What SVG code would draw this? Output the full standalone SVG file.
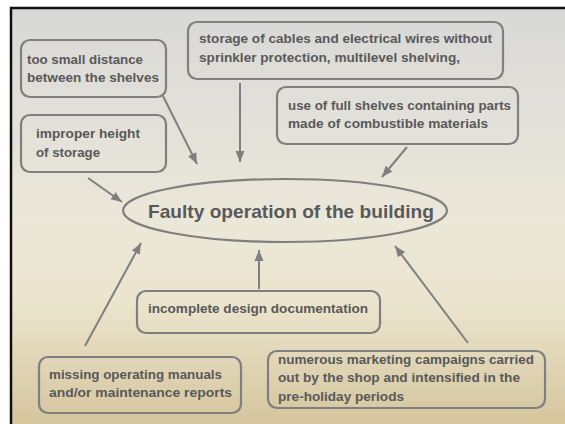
<svg xmlns="http://www.w3.org/2000/svg" width="565" height="424" viewBox="0 0 565 424">
<defs>
<linearGradient id="bg" x1="0" y1="0" x2="0" y2="1">
<stop offset="0" stop-color="#d8d8d8"/>
<stop offset="0.5" stop-color="#ebe8d9"/>
<stop offset="0.7" stop-color="#ebe4cd"/>
<stop offset="1" stop-color="#d3c39a"/>
</linearGradient>
<marker id="ah" markerUnits="userSpaceOnUse" markerWidth="12" markerHeight="12" viewBox="0 0 12 12" refX="11" refY="6" orient="auto">
<path d="M0,1.5 L11,6 L0,10.5 Z" fill="#7f7f7f"/>
</marker>
<style>
.box{fill:none;stroke:#7f7f7f;stroke-width:2.2}
.t{font-family:"Liberation Sans",Arial,sans-serif;font-weight:bold;font-size:13.3px;fill:#595959}
.title{font-family:"Liberation Sans",Arial,sans-serif;font-weight:bold;font-size:19px;fill:#595959}
.c{stroke:#7f7f7f;stroke-width:2;fill:none;marker-end:url(#ah)}
</style>
</defs>
<rect x="0" y="0" width="565" height="424" fill="#ffffff"/>
<rect x="11" y="8" width="560" height="424" fill="url(#bg)" stroke="#111111" stroke-width="2.5"/>

<g id="connectors">
<line class="c" x1="163" y1="96" x2="197" y2="164"/>
<line class="c" x1="240" y1="83" x2="240" y2="162"/>
<line class="c" x1="407" y1="147" x2="382" y2="177"/>
<line class="c" x1="88" y1="178" x2="122" y2="202"/>
<line class="c" x1="85" y1="346" x2="141" y2="243"/>
<line class="c" x1="259" y1="289" x2="259" y2="250"/>
<line class="c" x1="468" y1="343" x2="395" y2="246"/>
</g>

<g id="center">
<ellipse cx="285" cy="210.5" rx="162" ry="31.5" fill="none" stroke="#7f7f7f" stroke-width="2.2"/>
<text class="title" x="148" y="218" textLength="286" lengthAdjust="spacingAndGlyphs">Faulty operation of the building</text>
</g>

<g id="n-distance">
<rect class="box" x="21" y="40" width="145" height="57" rx="9"/>
<text class="t" x="27" y="64" textLength="116" lengthAdjust="spacingAndGlyphs">too small distance</text>
<text class="t" x="27" y="82" textLength="132" lengthAdjust="spacingAndGlyphs">between the shelves</text>
</g>

<g id="n-height">
<rect class="box" x="21" y="115" width="145" height="57" rx="9"/>
<text class="t" x="36" y="138" textLength="104" lengthAdjust="spacingAndGlyphs">improper height</text>
<text class="t" x="36" y="157" textLength="64" lengthAdjust="spacingAndGlyphs">of storage</text>
</g>

<g id="n-cables">
<rect class="box" x="188" y="22" width="315" height="57" rx="9"/>
<text class="t" x="199" y="43" textLength="293" lengthAdjust="spacingAndGlyphs">storage of cables and electrical wires without</text>
<text class="t" x="199" y="62" textLength="261" lengthAdjust="spacingAndGlyphs">sprinkler protection, multilevel shelving,</text>
</g>

<g id="n-shelves">
<rect class="box" x="277" y="87" width="241" height="57" rx="9"/>
<text class="t" x="288" y="110" textLength="223" lengthAdjust="spacingAndGlyphs">use of full shelves containing parts</text>
<text class="t" x="288" y="128" textLength="200" lengthAdjust="spacingAndGlyphs">made of combustible materials</text>
</g>

<g id="n-design">
<rect class="box" x="137" y="291" width="243" height="42" rx="9"/>
<text class="t" x="148" y="313" textLength="220" lengthAdjust="spacingAndGlyphs">incomplete design documentation</text>
</g>

<g id="n-manuals">
<rect class="box" x="39" y="357" width="202" height="56" rx="9"/>
<text class="t" x="49" y="379" textLength="173" lengthAdjust="spacingAndGlyphs">missing operating manuals</text>
<text class="t" x="49" y="397" textLength="183" lengthAdjust="spacingAndGlyphs">and/or maintenance reports</text>
</g>

<g id="n-marketing">
<rect class="box" x="268" y="351" width="277" height="57" rx="9"/>
<text class="t" x="278" y="364" textLength="256" lengthAdjust="spacingAndGlyphs">numerous marketing campaigns carried</text>
<text class="t" x="278" y="382" textLength="242" lengthAdjust="spacingAndGlyphs">out by the shop and intensified in the</text>
<text class="t" x="278" y="401" textLength="126" lengthAdjust="spacingAndGlyphs">pre-holiday periods</text>
</g>
</svg>
